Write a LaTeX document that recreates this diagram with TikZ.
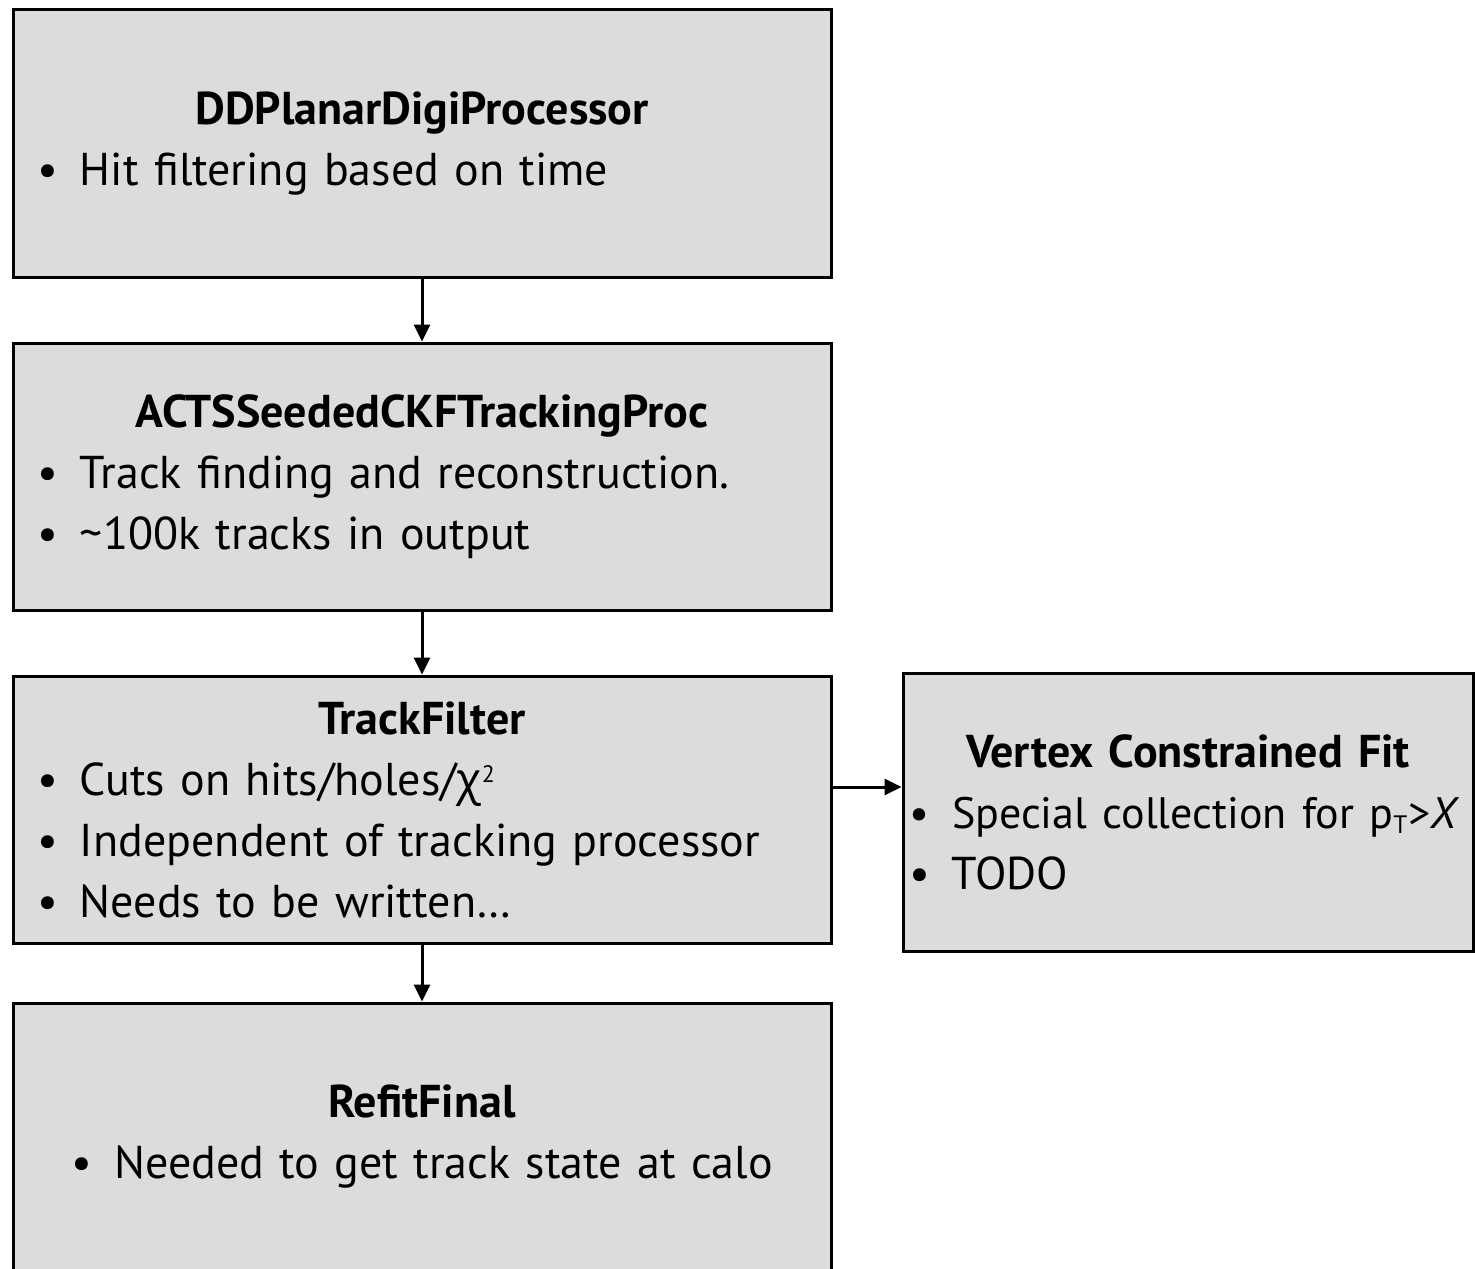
\documentclass[tikz,border=0pt]{standalone}
\usepackage{fontspec}
\setmainfont{PT Sans}
\newfontfamily\grkfont{Open Sans}
\usetikzlibrary{positioning,arrows.meta}
\definecolor{boxgray}{HTML}{DCDCDC}
\newcommand{\itm}{\makebox[21.5pt][l]{\textbullet}}
\newcommand{\ttl}[1]{\makebox[\linewidth][c]{\textbf{#1}}}

\begin{document}
\begin{tikzpicture}[x=0.5pt, y=-0.5pt,
    font=\fontsize{23pt}{30.5pt}\selectfont,
    proc/.style={draw, line width=1.5pt, fill=boxgray, minimum width=409pt,
      minimum height=133.5pt, text width=385pt, inner xsep=12pt, align=left},
    arr/.style={line width=1.5pt, -{Triangle[length=8.5pt, width=8pt]}},
    node distance=31.5pt]
  \useasboundingbox (0,0) rectangle (1475,1268);
  % Processor chain
  \node[proc] (digi) at (422,143.5)
    {\ttl{DDPlanarDigiProcessor}\\
     \itm Hit filtering based on time};
  \node[proc, below=of digi] (acts)
    {\ttl{ACTSSeededCKFTrackingProc}\\
     \itm Track finding and reconstruction.\\
     \itm \textasciitilde100k tracks in output};
  \node[proc, below=of acts] (filter)
    {\ttl{TrackFilter}\\
     \itm Cuts on hits/holes/{\grkfont χ}{\fontsize{17pt}{17pt}\selectfont\textsuperscript{2}}\\
     \itm Independent of tracking processor\\
     \itm Needs to be written…};
  \node[proc, below=28.5pt of filter] (refit)
    {\ttl{RefitFinal}\\
     \makebox[\linewidth][c]{\itm Needed to get track state at calo}};
  % Side branch
  \node[proc, right=34.5pt of filter, yshift=-1.25pt, minimum width=285pt,
    minimum height=139pt, text width=279pt, inner xsep=3pt] (vertex)
    {\ttl{Vertex Constrained Fit}\\
     \mbox{\fontsize{22pt}{30.5pt}\selectfont\itm Special collection for
       p{\fontsize{18pt}{18pt}\selectfont\textsubscript{T}}>\textit{X}}\\
     \itm TODO};
  \coordinate (fout) at ([yshift=11.25pt]filter.east);
  % Connect the boxes
  \draw[arr] (digi) -- (acts);
  \draw[arr] (acts) -- (filter);
  \draw[arr] (filter) -- (refit);
  \draw[arr] (fout) -- (fout -| vertex.west);
\end{tikzpicture}
\end{document}
